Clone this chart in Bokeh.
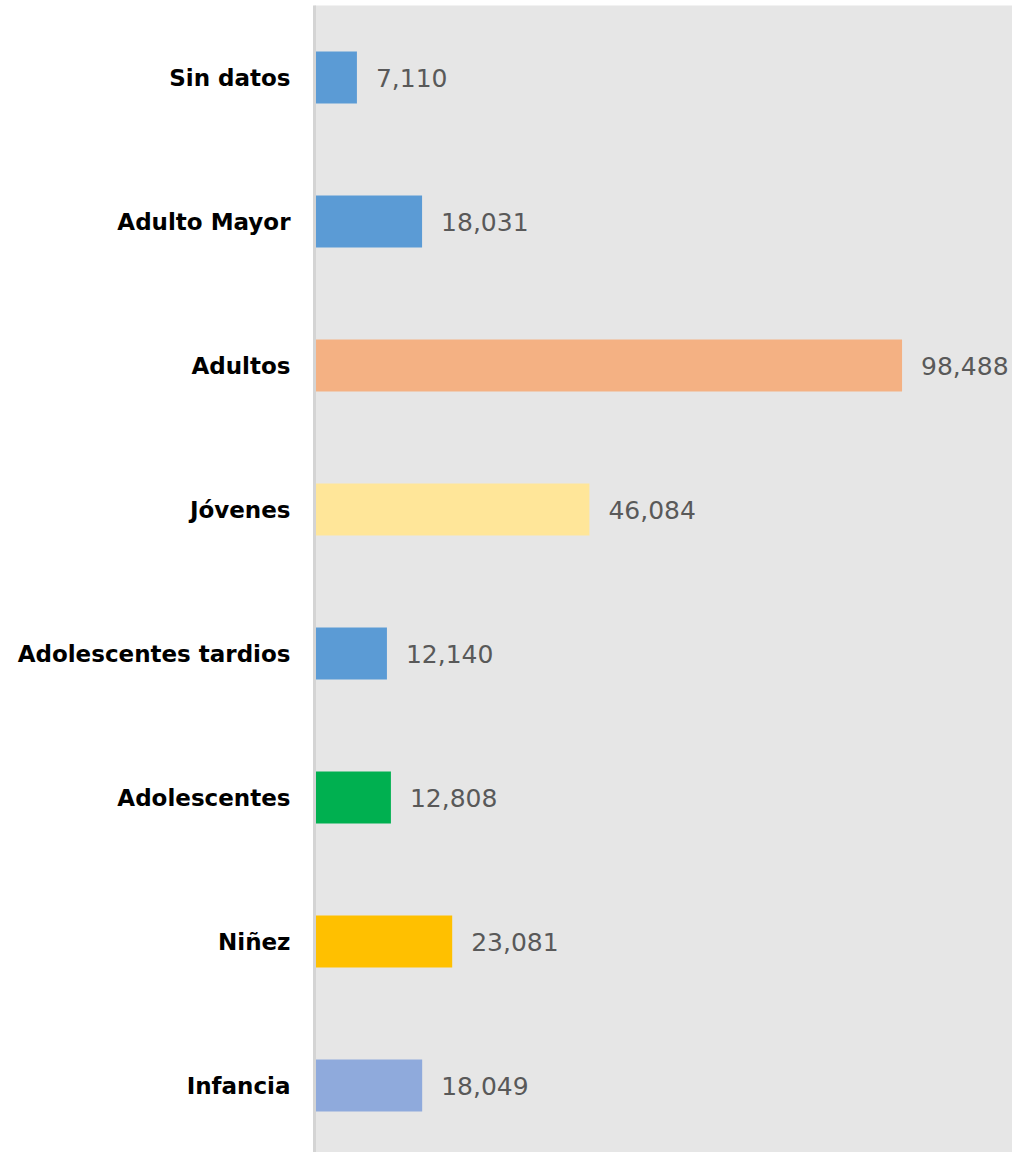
from bokeh.plotting import figure
from bokeh.models import ColumnDataSource, Range1d, FixedTicker
from bokeh.embed import file_html
from bokeh.resources import INLINE
from bokeh.core.properties import value

categories = ["Infancia", "Niñez", "Adolescentes", "Adolescentes tardios",
              "Jóvenes", "Adultos", "Adulto Mayor", "Sin datos"]
counts = [18049, 23081, 12808, 12140, 46084, 98488, 18031, 7110]
colors = ["#8faadc", "#ffc000", "#00b050", "#5b9bd5",
          "#ffe699", "#f4b183", "#5b9bd5", "#5b9bd5"]
labels = [f"{v:,}" for v in counts]
positions = list(range(len(categories)))

src = ColumnDataSource(dict(y=positions, v=counts, c=colors, lab=labels))

p = figure(width=1012, height=1152, output_backend="svg", toolbar_location=None,
           x_range=Range1d(0, 117000), y_range=Range1d(-0.465, 7.5),
           min_border_left=314, min_border_right=0, min_border_top=5,
           min_border_bottom=0)
p.hbar(y="y", right="v", left=0, height=0.36, fill_color="c", line_color=None, source=src)
p.text(x="v", y="y", text="lab", source=src, x_offset=19,
       text_baseline="middle", text_align="left",
       text_font=value("DejaVu Sans"), text_font_size="25px", text_color="#595959")

p.background_fill_color = "#e6e6e6"
p.border_fill_color = "white"
p.outline_line_color = None
p.grid.visible = False
p.xaxis.visible = False

ya = p.yaxis[0]
ya.ticker = FixedTicker(ticks=positions)
ya.major_label_overrides = {i: c for i, c in zip(positions, categories)}
ya.major_label_text_font = "DejaVu Sans"
ya.major_label_text_font_style = "bold"
ya.major_label_text_font_size = "23px"
ya.major_label_text_color = "#000000"
ya.major_label_standoff = 18
ya.major_tick_line_color = None
ya.minor_tick_line_color = None
ya.axis_line_color = "#d4d4d4"
ya.axis_line_width = 3

open("out.html", "w").write(file_html(p, INLINE))
